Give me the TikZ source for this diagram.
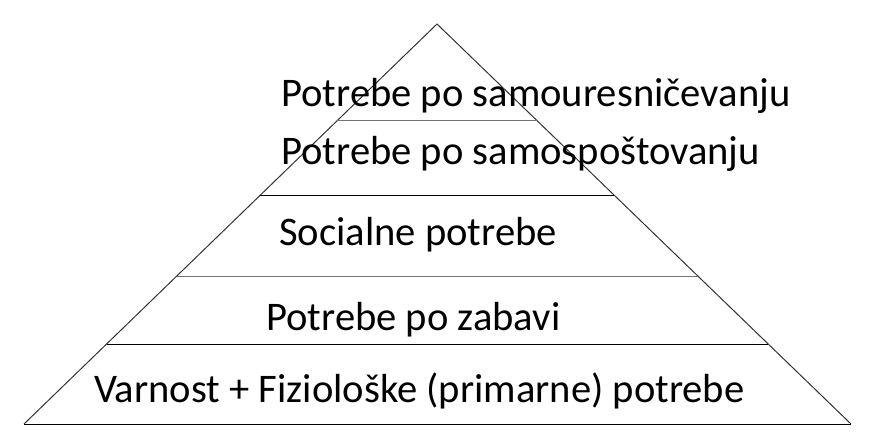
\documentclass[tikz,border=0pt]{standalone}
\usepackage{fontspec}
\setmainfont{Carlito}
\usetikzlibrary{calc}
\begin{document}
\begin{tikzpicture}[x=1pt,y=-1pt,
  edge/.style={draw=black!80,line width=1pt},
  sep/.style={draw=black,line width=1pt},
  sepgray/.style={draw=black!55,line width=1pt},
  lbl/.style={anchor=base west,inner sep=0pt,font=\fontsize{40.6}{46}\selectfont}]
\useasboundingbox (0,0) rectangle (880,436);
\coordinate (apex) at (437,24);
\coordinate (bl) at (24,424);
\coordinate (br) at (851,424);
\draw[edge] (bl) -- (apex) -- (br);
\draw[sep] (bl) -- (br);
\coordinate (l1a) at ($(apex)!0.241!(bl)$);
\coordinate (l1b) at ($(apex)!0.241!(br)$);
\coordinate (l2a) at ($(apex)!0.4275!(bl)$);
\coordinate (l2b) at ($(apex)!0.4275!(br)$);
\coordinate (l3a) at ($(apex)!0.63!(bl)$);
\coordinate (l3b) at ($(apex)!0.63!(br)$);
\coordinate (l4a) at ($(apex)!0.80!(bl)$);
\coordinate (l4b) at ($(apex)!0.80!(br)$);
\draw[sepgray] (l1a) -- (l1b);
\draw[sep] (l2a) -- (l2b);
\draw[sepgray] (l3a) -- (l3b);
\draw[sep] (l4a) -- (l4b);
\node[lbl] (t1) at (281,106) {Potrebe po samouresničevanju};
\node[lbl] (t2) at (281,164) {Potrebe po samospoštovanju};
\node[lbl] (t3) at (279,245) {Socialne potrebe};
\node[lbl] (t4) at (266,330) {Potrebe po zabavi};
\node[lbl] (t5) at (94,402) {Varnost + Fiziološke (primarne) potrebe};
\end{tikzpicture}
\end{document}
